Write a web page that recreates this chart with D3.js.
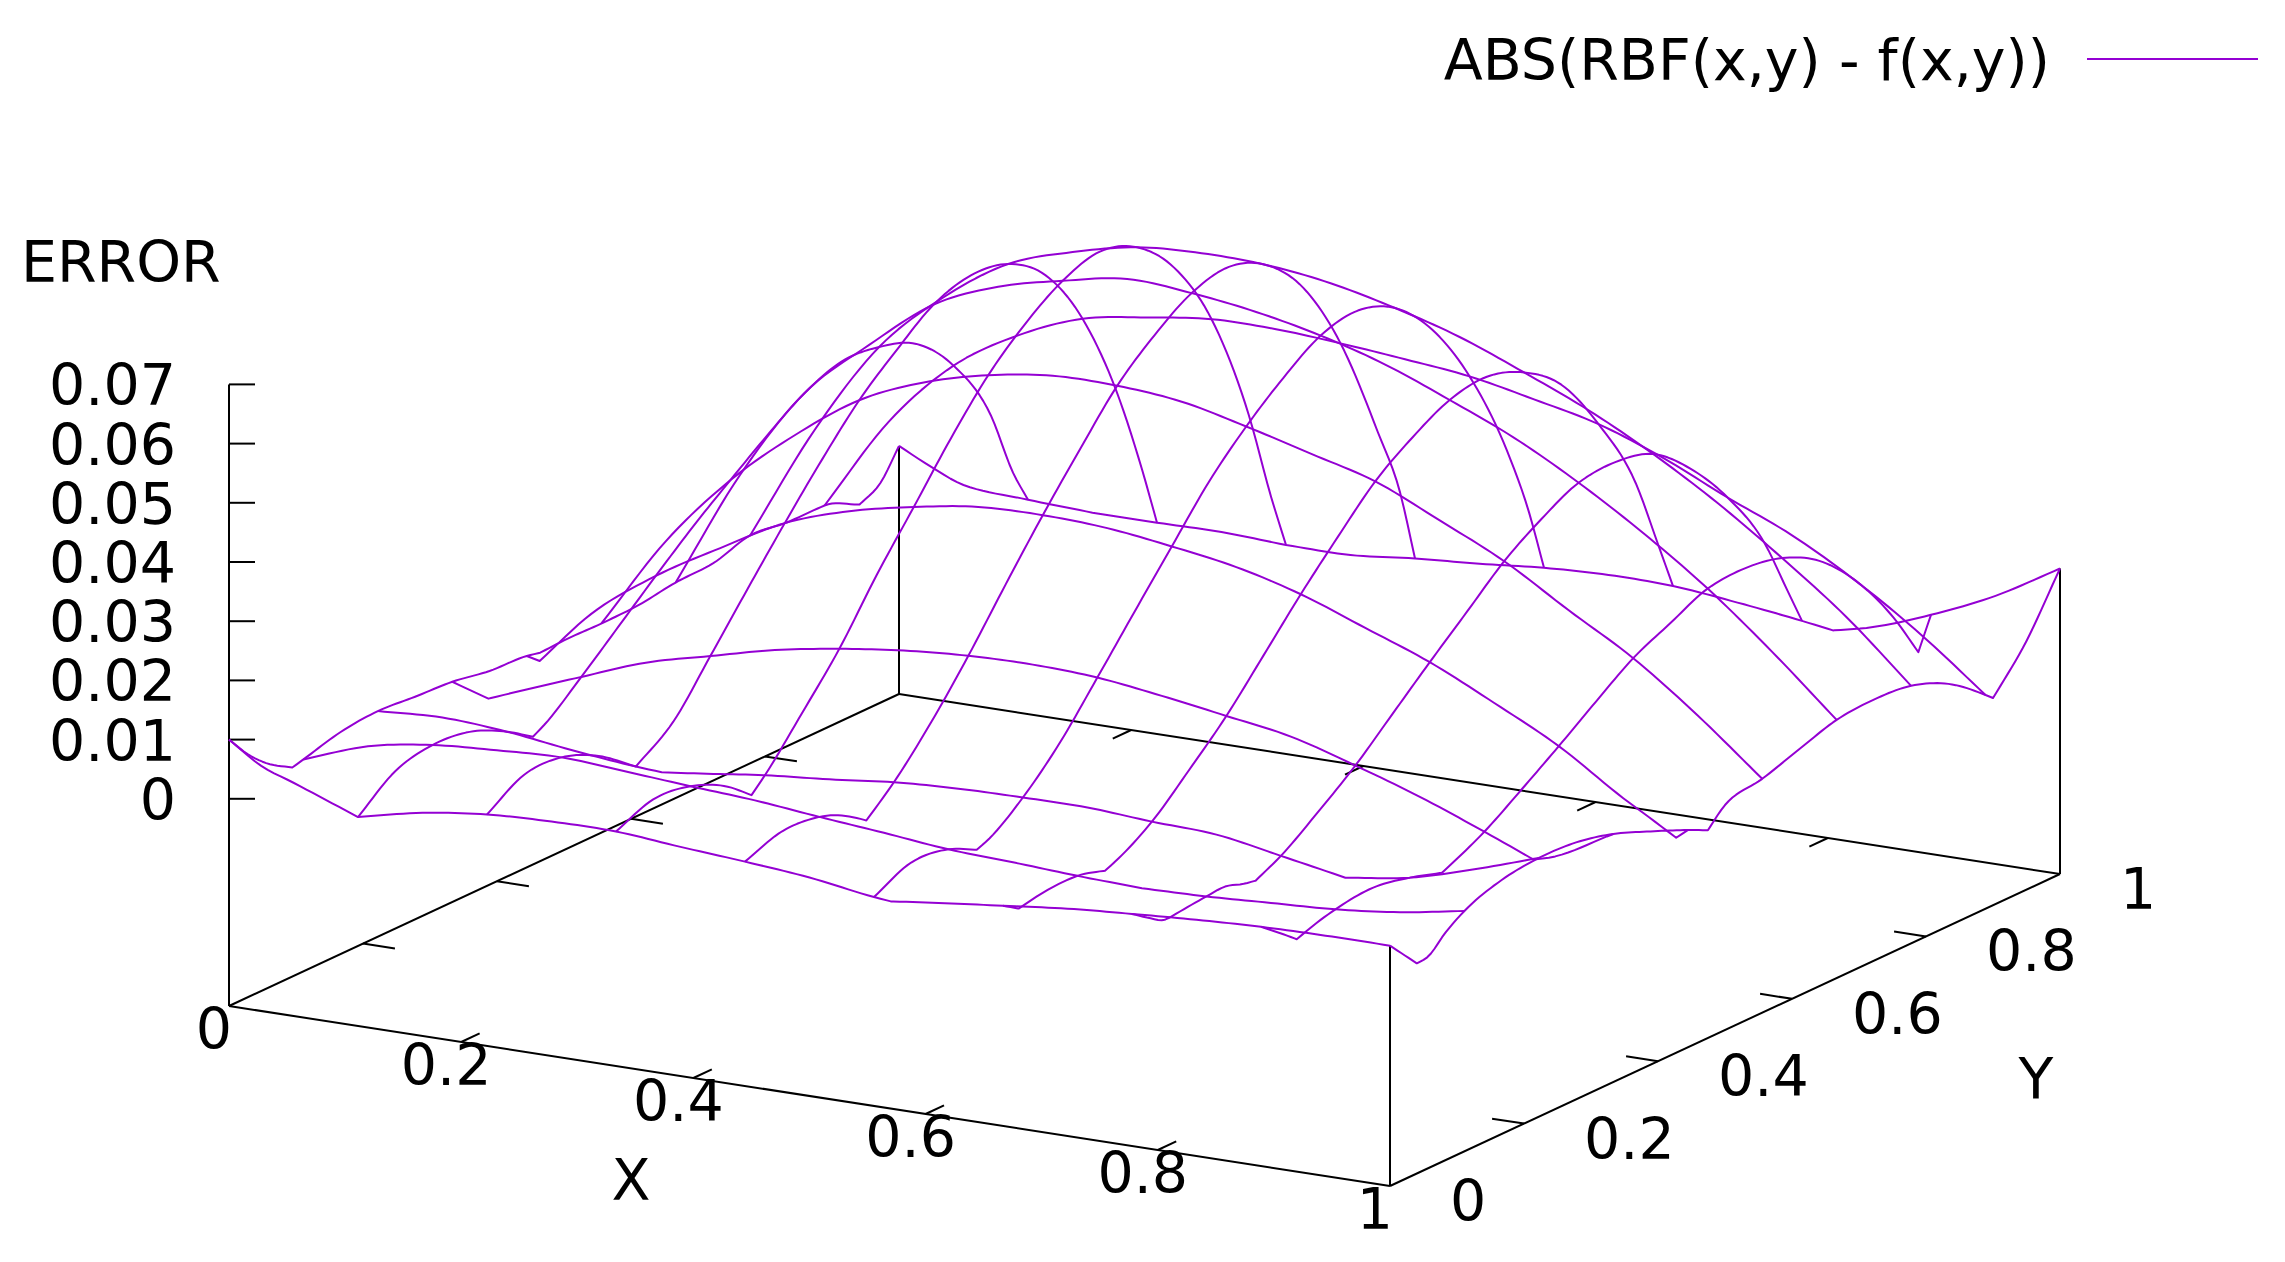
<!DOCTYPE html>
<html><head><meta charset="utf-8">
<style>html,body{margin:0;background:#fff}svg{display:block}text{font-family:"DejaVu Sans";font-size:57px;fill:#000}</style>
<script src="https://cdn.jsdelivr.net/npm/d3@7"></script></head>
<body><svg id="c" width="2285" height="1262"></svg>
<script>
// Each isoline: [grid position 0..9 along the line, |error| in thousandths]
const yLine0=[[0,10],[.25,6.4],[.5,4.4],[1,.3],[1.5,2.7],[2,4.1],[2.5,4.6],[3,4.6],[3.5,3.7],[4,2.9],[4.5,1.9],[5,.3],[5.13,0],[5.5,1],[6,2.2],[6.5,3.4],[7,4.2],[7.5,4.9],[8,5.4],[8.5,5.6],[9,5.6]];
const yLine1=[[0,.8],[.5,4.7],[1,6.6],[1.5,7.4],[2,7.9],[2.5,7.2],[3,6.4],[3.5,5.7],[4,4.6],[4.5,3.6],[5,2.5],[5.5,2],[6,1.4],[6.5,1],[7,1.3],[7.5,1.9],[8,2.5],[8.5,3.7],[9,5.6]];
const yLine2=[[0,3.1],[.5,3.7],[1,3],[1.5,1.6],[2,.5],[2.2,.2],[2.5,1],[3,2.4],[3.5,3.4],[4,4.6],[4.5,5.2],[5,5.4],[5.5,5.4],[6,4.7],[6.5,4.2],[7,2.3],[7.5,.3],[8,2],[8.5,5.1],[9,8.7]];
const yLine3=[[0,2.2],[.28,.3],[.5,2.2],[1,6.4],[1.5,10.5],[2,13.3],[2.5,16],[3,17.9],[3.5,19.3],[4,20.1],[4.5,20.3],[5,19.8],[5.5,18.4],[6,16.7],[6.5,14.9],[7,11.7],[7.5,8.1],[8,3.9],[8.38,.5],[8.5,1.2],[9,6.9]];
const yLine4=[[0,.7],[.1,.2],[.5,9.5],[1,17.6],[1.5,24],[2,29.9],[2.5,33.6],[3,36],[3.5,37.7],[4,38],[4.5,37.5],[5,36.1],[5.5,34.3],[6,31.4],[6.5,27.4],[7,23.3],[7.5,18.1],[8,12.5],[8.5,5.4],[8.75,2.2],[8.91,.1],[9,1.7]];
const yLine5=[[0,.3],[.5,15.9],[1,27.9],[1.5,37.2],[2,44.8],[2.5,49.5],[3,52.4],[3.5,54],[4,54],[4.5,53],[5,50.5],[5.5,47.6],[6,44.6],[6.5,39.7],[7,34.5],[7.5,27.9],[8,21.5],[8.5,13.5],[9,4.5]];
const yLine6=[[0,1.4],[.5,21.3],[1,36.8],[1.5,46.6],[2,55.1],[2.5,59.8],[3,62.5],[3.5,64.5],[4,63.8],[4.5,62.3],[5,60],[5.5,56.8],[6,52.5],[6.5,47.8],[7,41.9],[7.5,35.1],[8,27.4],[8.5,18.4],[9,8.6]];
const yLine7=[[0,3.5],[.5,23],[1,38.7],[1.5,48.8],[2,56.1],[2.5,59.8],[3,62.3],[3.5,63],[4,62.7],[4.5,61.3],[5,58.8],[5.5,55.6],[6,51.3],[6.5,46.6],[7,40.9],[7.5,34.3],[8,26.7],[8.5,18.4],[9,8.5]];
const yLine8=[[0,2.7],[.5,18.6],[1,29.7],[1.5,36.5],[2,41],[2.5,42.9],[3,44.3],[3.5,44.3],[4,43.6],[4.5,42.6],[5,41.4],[5.5,39.2],[6,36.7],[6.5,32.7],[7,27.7],[7.5,23],[8,16.9],[8.5,9.6],[9,1.1]];
const yLine9=[[0,6.9],[.25,4.2],[.5,2],[1,1.2],[1.5,.7],[2,.7],[2.5,.8],[3,.3],[3.5,.3],[4,1.4],[4.5,2.2],[5,3.2],[5.5,3.7],[6,3.5],[6.5,2.4],[7,1],[7.24,.2],[7.5,1.5],[8,5.4],[8.5,10.3],[9,16.6]];
const xLine0=[[0,10],[.25,6.1],[.5,3.1],[.85,.3],[1,.8],[1.5,2.5],[2,3.1],[2.5,2.6],[3,2.2],[3.5,1.1],[4,.7],[4.18,.2],[4.5,.4],[5,.3],[5.5,.5],[6,1.4],[6.5,1.7],[7,3.5],[7.5,2.8],[8,2.7],[8.47,.1],[8.75,2.1],[9,6.9]];
const xLine1=[[0,.3],[.5,5.1],[1,6.6],[1.5,5.9],[2,3],[2.35,.1],[2.5,1.2],[3,6.4],[3.5,12],[4,17.6],[4.5,23],[5,27.9],[5.5,32.6],[6,36.8],[6.5,39.2],[7,38.7],[7.5,36.3],[8,29.7],[8.5,18.4],[8.8,6.9],[9,1.2]];
const xLine2=[[0,4.1],[.5,7.9],[1,7.9],[1.5,5.2],[2,.5],[2.5,5.1],[3,13.3],[3.5,21.7],[4,29.9],[4.5,37.7],[5,44.8],[5.5,50.3],[6,55.1],[6.5,57.1],[7,56.1],[7.5,51.3],[8,41],[8.5,24.3],[8.8,10.8],[9,.7]];
const xLine3=[[0,4.6],[.5,7.1],[1,6.4],[1.5,3.4],[1.82,.1],[2,2.4],[2.5,10],[3,17.9],[3.5,27.4],[4,36],[4.5,44.7],[5,52.4],[5.5,58.2],[6,62.5],[6.5,64.5],[7,62.3],[7.5,55.9],[8,44.3],[8.5,25.2],[8.8,9.6],[9,.3]];
const xLine4=[[0,2.9],[.5,5.1],[1,4.6],[1.5,1.5],[1.63,.3],[2,4.6],[2.5,11.8],[3,20.1],[3.5,29.2],[4,38],[4.5,46.2],[5,54],[5.5,59.6],[6,63.8],[6.5,65.3],[7,62.7],[7.5,55.9],[8,43.6],[8.5,25.7],[8.8,13.7],[9,1.4]];
const xLine5=[[0,.3],[.5,3.2],[1,2.5],[1.38,.2],[1.5,.8],[2,5.4],[2.5,11.8],[3,19.8],[3.5,28],[4,36.1],[4.5,44.1],[5,50.5],[5.5,55.8],[6,60],[6.5,61.3],[7,58.8],[7.5,52.2],[8,41.4],[8.5,26],[8.8,13.7],[9,3.2]];
const xLine6=[[0,2.2],[.21,.5],[.5,1.2],[.75,1.5],[1,1.4],[1.25,.6],[1.37,.1],[1.5,.8],[2,4.7],[2.5,10.5],[3,16.7],[3.5,24],[4,31.4],[4.5,38.2],[5,44.6],[5.5,49.1],[6,52.5],[6.5,53.5],[7,51.3],[7.5,46.3],[8,36.7],[8.5,23.8],[8.8,11.7],[9,3.5]];
const xLine7=[[0,4.2],[.25,2],[.42,.7],[.5,.6],[.75,1],[1,1.3],[1.25,1.5],[1.5,.5],[1.66,.1],[2,2.3],[2.5,6.8],[3,11.7],[3.5,17.5],[4,23.3],[4.5,28.9],[5,34.5],[5.5,38.7],[6,41.9],[6.5,42.5],[7,40.9],[7.5,35.5],[8,27.7],[8.5,17],[8.8,7.4],[9,1]];
const xLine8=[[0,5.4],[.25,2.9],[.48,.5],[.75,1.7],[1,2.5],[1.5,3.2],[2,2],[2.43,.3],[2.5,.7],[3,3.9],[3.5,8.1],[4,12.5],[4.5,17.1],[5,21.5],[5.5,24.5],[6,27.4],[6.5,27.9],[7,26.7],[7.5,23.3],[8,16.9],[8.5,7.8],[8.83,.1],[9,5.4]];
const xLine9=[[0,5.6],[.36,.5],[.5,.7],[.75,3.5],[1,5.6],[1.5,7.9],[2,8.7],[2.5,8.4],[3,6.9],[3.5,4.4],[4,1.7],[4.27,.1],[4.5,3],[5,4.5],[5.5,6.6],[6,8.6],[6.5,9.1],[7,8.5],[7.5,5.9],[8,1.1],[8.1,0],[8.25,2.2],[8.5,6.1],[9,16.6]];
const zTicks=[0,.01,.02,.03,.04,.05,.06,.07];
const xTicks=[0,.2,.4,.6,.8,1];
const yTicks=[0,.2,.4,.6,.8,1];
const legendLabel="ABS(RBF(x,y) - f(x,y))";

const yLines=[yLine0,yLine1,yLine2,yLine3,yLine4,yLine5,yLine6,yLine7,yLine8,yLine9];
const xLines=[xLine0,xLine1,xLine2,xLine3,xLine4,xLine5,xLine6,xLine7,xLine8,xLine9];
const zBase=-0.035, N=9, PURPLE="#9400d3", CUSP=1.0;
const scale=(d,r)=>d3.scaleLinear().domain(d).range(r);
const grid=scale([0,N],[0,1]);
const sxX=scale([0,1],[229,1390]), sxY=scale([0,1],[0,670]);
const syX=scale([0,1],[1006,1186]), syY=scale([0,1],[0,-312]), syZ=scale([zBase,0.07],[0,-621.6]);
const project=(x,y,z)=>[sxX(x)+sxY(y), syX(x)+syY(y)+syZ(z)];

// rendering spline through the knots: smooth at crests, a true corner at the zeros of |error|
function spline(k){
  const n=k.length,d=[],mL=[],mR=[];
  for(let a=0;a<n-1;a++)d[a]=(k[a+1][1]-k[a][1])/(k[a+1][0]-k[a][0]);
  mR[0]=d[0];mL[n-1]=d[n-2];
  for(let a=1;a<n-1;a++){
    const h0=k[a][0]-k[a-1][0],h1=k[a+1][0]-k[a][0];
    const avg=(d[a-1]*h1+d[a]*h0)/(h0+h1);
    if(d[a-1]<0&&d[a]>=0){
      if(k[a][1]<=CUSP){mL[a]=d[a-1];mR[a]=d[a];}
      else mL[a]=mR[a]=0;
    } else if(d[a-1]*d[a]<=0) mL[a]=mR[a]=avg;
    else mL[a]=mR[a]=Math.sign(avg)*Math.min(Math.abs(avg),3*Math.min(Math.abs(d[a-1]),Math.abs(d[a])));
  }
  const ts=k.map(p=>p[0]);
  return t=>{
    const a=Math.min(n-2,Math.max(0,d3.bisectRight(ts,t)-1));
    const h=ts[a+1]-ts[a],s=(t-ts[a])/h,s2=s*s,s3=s2*s;
    return (2*s3-3*s2+1)*k[a][1]+(s3-2*s2+s)*h*mR[a]+(3*s2-2*s3)*k[a+1][1]+(s3-s2)*h*mL[a+1];
  };
}
const samplesFor=k=>Array.from(new Set([...d3.range(0,N,N/180),...k.map(p=>p[0]),N])).sort((a,b)=>a-b);
const svg=d3.select("#c"), line=d3.line();

const axes=svg.append("g").attr("stroke","#000").attr("stroke-width",2).attr("fill","none");
const seg=(a,b)=>axes.append("path").attr("d",line([a,b]));
const P00=project(0,0,zBase),P10=project(1,0,zBase),P11=project(1,1,zBase),P01=project(0,1,zBase);
seg(P00,P10);seg(P10,P11);seg(P11,P01);seg(P01,P00);
seg(P00,project(0,0,0.07));
seg(P10,project(1,0,xLine9[0][1]/1000));
seg(P11,project(1,1,xLine9[xLine9.length-1][1]/1000));
seg(P01,project(0,1,xLine0[xLine0.length-1][1]/1000));
const TL=0.0275;
zTicks.forEach(z=>{const p=project(0,0,z);seg(p,[p[0]+26,p[1]]);});
xTicks.slice(1,-1).forEach(x=>{seg(project(x,0,zBase),project(x,TL,zBase));seg(project(x,1,zBase),project(x,1-TL,zBase));});
yTicks.slice(1,-1).forEach(y=>{seg(project(0,y,zBase),project(TL,y,zBase));seg(project(1,y,zBase),project(1-TL,y,zBase));});

const surface=svg.append("g").attr("fill","none").attr("stroke",PURPLE).attr("stroke-width",2).attr("stroke-linejoin","round");
yLines.forEach((k,j)=>{const f=spline(k);surface.append("path").attr("d",line(samplesFor(k).map(t=>project(grid(t),grid(j),f(t)/1000))));});
xLines.forEach((k,i)=>{const f=spline(k);surface.append("path").attr("d",line(samplesFor(k).map(t=>project(grid(i),grid(t),f(t)/1000))));});

const text=(s,x,y,a)=>svg.append("text").attr("x",x).attr("y",y).attr("text-anchor",a||"start").text(s);
zTicks.forEach(z=>{const p=project(0,0,z);text(String(z),176,p[1]+21,"end");});
xTicks.forEach(x=>{const p=project(x,0,zBase);text(String(x),p[0]-15,p[1]+43,"middle");});
yTicks.forEach(y=>{const p=project(1,y,zBase);text(String(y),p[0]+60,p[1]+35);});
text("ERROR",21,282);
text("X",631,1200,"middle");
text("Y",2036,1099,"middle");
text(legendLabel,2050,80,"end");
svg.append("path").attr("d",line([[2087,59],[2258,59]])).attr("stroke",PURPLE).attr("stroke-width",2).attr("fill","none");
</script></body></html>
